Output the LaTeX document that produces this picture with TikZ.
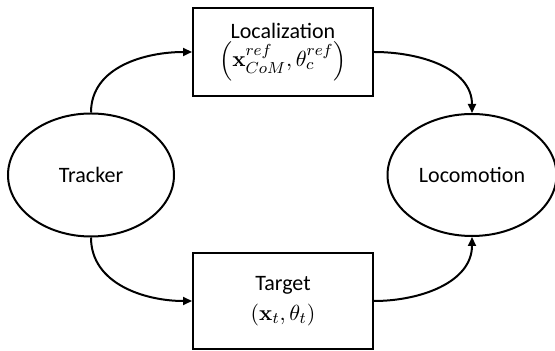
\documentclass[tikz,border=0pt]{standalone}
\usepackage[no-math]{fontspec}
\setmainfont{Carlito}
\usepackage{amsmath}
\usetikzlibrary{shapes.geometric, arrows.meta, positioning}

\begin{document}
\begin{tikzpicture}[x=0.5pt, y=-0.5pt, line width=1pt, font=\fontsize{11}{13}\selectfont]
    \useasboundingbox (0,0) rectangle (555,351);
    % Nodes
    \node [ellipse, draw, minimum width=83pt, minimum height=61.5pt] (tracker) at (91,175) {Tracker};
    \node [ellipse, draw, minimum width=80.5pt, minimum height=61pt] (locomotion) at (472,175) {Locomotion};
    \node [rectangle, draw, text centered, align=center, minimum width=90pt, minimum height=44pt] (localization) at (283,52) {Localization\\[1pt]$\left(\mathbf{x}_{CoM}^{ref},\theta_c^{ref}\right)$};
    \node [rectangle, draw, text centered, align=center, minimum width=90pt, minimum height=48pt] (target) at (283,301) {Target\\[2pt]$(\mathbf{x}_t,\theta_t)$};

    % Edges
    \draw [-{Triangle[length=4.5pt, width=4pt]}] (tracker.north) to[out=90, in=180] (localization.west);
    \draw [-{Triangle[length=4.5pt, width=4pt]}] (localization.east) to[out=0, in=90] (locomotion.north);
    \draw [-{Triangle[length=4.5pt, width=4pt]}] (tracker.south) to[out=-90, in=180] (target.west);
    \draw [-{Triangle[length=4.5pt, width=4pt]}] (target.east) to[out=0, in=-90] (locomotion.south);
\end{tikzpicture}
\end{document}
